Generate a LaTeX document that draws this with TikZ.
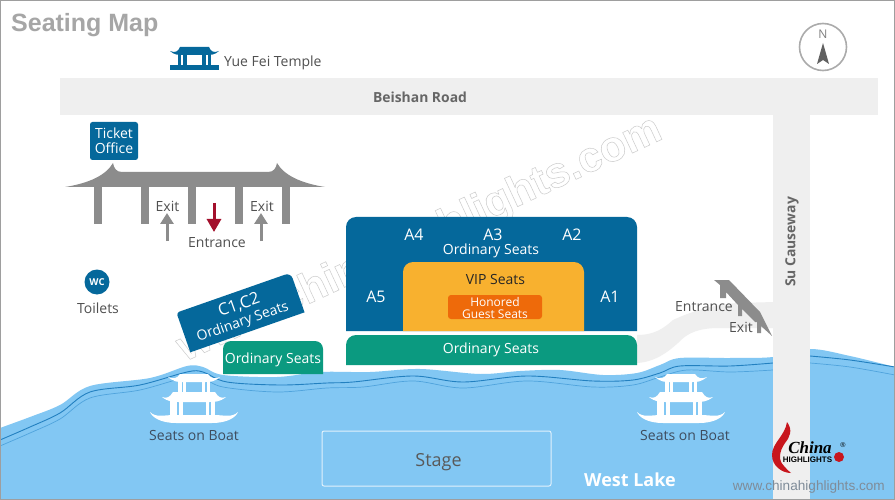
\documentclass[tikz,border=0pt]{standalone}
\usepackage{fontspec}
\setmainfont{Open Sans}
\newfontfamily\arialfont{Liberation Sans}
\newfontfamily\serifitfont{Liberation Serif}
\newfontfamily\markfont[FakeBold=1.2]{Liberation Sans Bold}
\usetikzlibrary{arrows.meta}
\definecolor{deepblue}{HTML}{05689B}
\definecolor{seatgreen}{HTML}{0B9A80}
\definecolor{vipyellow}{HTML}{F8B12F}
\definecolor{honorange}{HTML}{EE6A0A}
\definecolor{waterblue}{HTML}{82C7F3}
\definecolor{roadgrey}{HTML}{EFEFEF}
\definecolor{gategrey}{HTML}{8C8C8C}
\definecolor{labelgrey}{HTML}{505050}
\definecolor{boatlabel}{HTML}{3E4C5E}
\definecolor{sitegrey}{HTML}{7F8C99}
\definecolor{rippledark}{HTML}{2280C0}
\definecolor{ripplelight}{HTML}{4FA3DC}
\definecolor{logored}{HTML}{C8161D}
\definecolor{entrred}{HTML}{A3102C}
\newcommand{\fsz}[1]{\fontsize{#1}{#1}\selectfont}
\tikzset{
  lbl/.style={inner sep=0pt,text=labelgrey,font=\fsz{14},align=center},
  wlbl/.style={inner sep=0pt,text=white,font=\fsz{14},align=center},
  boatlbl/.style={inner sep=0pt,text=boatlabel,font=\fsz{14}},
  ripple1/.style={draw=rippledark,line width=0.9pt},
  ripple2/.style={draw=ripplelight,line width=0.7pt},
  greyarrow/.style={draw=gategrey,line width=3pt,-{Triangle[length=11pt,width=13pt]}},
}
\newcommand{\boatshape}[1]{%
\begin{scope}[shift={(#1,400)},fill=white]
  \fill (-26,-23) .. controls (-21,-21) and (-17,-21) .. (-14,-26) -- (14,-26) .. controls (17,-21) and (21,-21) .. (26,-23) .. controls (20,-18) and (16,-18) .. (12,-18) -- (-12,-18) .. controls (-16,-18) and (-20,-18) .. (-26,-23) -- cycle;
  \fill (-16,-18) rectangle (-12.5,-6);
  \fill (-11,-18) rectangle (-8,-6);
  \fill (8,-18) rectangle (11,-6);
  \fill (12.5,-18) rectangle (16,-6);
  \fill (-32,-3) .. controls (-27,-1) and (-24,-3) .. (-21,-8) -- (21,-8) .. controls (24,-3) and (27,-1) .. (32,-3) .. controls (26,2) and (20,2) .. (16,2) -- (-16,2) .. controls (-20,2) and (-26,2) .. (-32,-3) -- cycle;
  \fill (-24,0) rectangle (-17,15);
  \fill (-15,0) rectangle (-11.5,15);
  \fill (11.5,0) rectangle (15,15);
  \fill (17,0) rectangle (21,15);
  \fill (-44,12) .. controls (-38,18) and (-30,15) .. (-20,15) -- (20,15) .. controls (30,15) and (38,18) .. (44,12) .. controls (42,17) and (34,23) .. (18,23) -- (-18,23) .. controls (-34,23) and (-42,17) .. (-44,12) -- cycle;
\end{scope}}
\begin{document}
\begin{tikzpicture}[x=1pt,y=-1pt]
\useasboundingbox (0,0) rectangle (895,500);
\fill[white] (0,0) rectangle (895,500);
% water
\fill[waterblue] plot[smooth,tension=0.55] coordinates {(0,428) (30,417) (60,405) (90,386) (150,378) (187,366) (203,367) (223,375) (277,377) (320,372) (370,372) (420,369) (480,374) (520,371) (560,370) (603,375) (637,373) (660,365) (680,358) (730,358) (773,357) (810,349) (850,356) (895,367)} -- (895,500) -- (0,500) -- cycle;
% ripples
\draw[ripple1] plot[smooth,tension=0.55] coordinates {(0,440) (30,427) (60,413) (90,392) (140,385) (187,372) (203,372) (227,382) (280,385) (327,383) (353,382) (413,376) (463,382) (527,376) (593,381) (633,380) (660,373) (680,366) (730,366) (773,363)};
\draw[ripple2] plot[smooth,tension=0.55] coordinates {(0,446) (30,433) (60,419) (90,398) (140,390) (187,377) (203,378) (223,387) (277,392) (327,388) (363,387) (413,381) (463,388) (527,381) (593,387) (633,385) (660,377) (687,370) (730,372) (773,370)};
\draw[ripple1] plot[smooth,tension=0.55] coordinates {(810,356) (850,360) (895,367)};
\draw[ripple2] plot[smooth,tension=0.55] coordinates {(810,363) (850,367) (895,375)};
% roads
\fill[roadgrey] (60,78) rectangle (878,115);
\fill[roadgrey] (773,115) rectangle (810,500);
\fill[roadgrey] (775,302) -- (737,303) .. controls (712,305) and (690,312) .. (673,320) .. controls (664,328) and (655,335) .. (637,335) -- (637,363) .. controls (655,362) and (668,352) .. (678,343) .. controls (688,332) and (700,328) .. (720,328) -- (775,328) -- cycle;
% watermark
\node[inner sep=0pt,rotate=25,text=black!20,font=\markfont\fsz{43}] (mark) at (420,240) {\special{pdf:code 1 1 1 rg}www.chinahighlights.com};
% frame
\draw[black!38,line width=1.5pt] (0,0) rectangle (895,500);
% title
\node[anchor=west,inner sep=0pt,text=black!35,font=\arialfont\bfseries\fsz{25}] (title) at (11,25.5) {Seating Map};
% compass
\node[circle,draw=black!33,line width=1.6pt,minimum size=47pt,inner sep=0pt] (compass) at (823,47) {};
\node[inner sep=0pt,text=black!50,font=\fsz{12}] (north) at (823,34) {N};
\fill[black!62] (823,43) -- (829,64) -- (823,60) -- (817,64) -- cycle;
% temple
\begin{scope}[fill=deepblue]
  \fill (170,65) rectangle (219,70);
  \fill (170,51) .. controls (175,53) and (178,52) .. (180,47) -- (209,47) .. controls (211,52) and (214,53) .. (219,51) .. controls (215,55) and (210,55) .. (207,55) -- (182,55) .. controls (179,55) and (174,55) .. (170,51) -- cycle;
  \fill (178,54) rectangle (180.5,65);
  \fill (183,54) rectangle (187,65);
  \fill (202,54) rectangle (206,65);
  \fill (208,54) rectangle (210.5,65);
\end{scope}
\node[lbl,anchor=west] (temple) at (224,63) {Yue Fei Temple};
\node[inner sep=0pt,text=black!60,font=\bfseries\fsz{13.9}] (beishan) at (420,97) {Beishan Road};
\node[inner sep=0pt,rotate=90,text=black!60,font=\bfseries\fsz{13.9}] (su) at (792,242) {Su Causeway};
% ticket office
\node[fill=deepblue,rounded corners=2.5pt,minimum width=48pt,minimum height=38pt,inner sep=0pt,text=white,align=center,font=\fsz{14}] (ticket) at (114,141) {Ticket\\[1pt]Office};
% gate
\fill[gategrey] (65,187) .. controls (90,183) and (106,175) .. (113,163) .. controls (114,168) and (116,172) .. (122,172) -- (268,172) .. controls (274,172) and (276,168) .. (277,163) .. controls (284,175) and (300,183) .. (325,187) -- cycle;
\fill[gategrey] (93.5,186) rectangle (102,224);
\fill[gategrey] (140.5,186) rectangle (149,224);
\fill[gategrey] (187.5,186) rectangle (196,224);
\fill[gategrey] (234.5,186) rectangle (243,224);
\fill[gategrey] (281.5,186) rectangle (290,224);
\node[lbl] (exitL) at (167.5,206) {Exit};
\node[lbl] (exitR) at (262,206) {Exit};
\node[lbl] (entr) at (217,243) {Entrance};
\coordinate (eLa) at (167,241); \coordinate (eLb) at (167,213);
\coordinate (eRa) at (261,241); \coordinate (eRb) at (261,213);
\coordinate (enA) at (214,203); \coordinate (enB) at (214,232);
\draw[greyarrow] (eLa) -- (eLb);
\draw[greyarrow] (eRa) -- (eRb);
\draw[draw=entrred,line width=3pt,-{Triangle[length=13pt,width=14pt]}] (enA) -- (enB);
% toilets
\node[circle,fill=deepblue,minimum size=25pt,inner sep=0pt,text=white,font=\bfseries\fsz{9.5}] (wc) at (97,282) {WC};
\node[lbl] (toilets) at (98,308) {Toilets};
% C1,C2
\begin{scope}[shift={(240.5,312.5)},rotate=19.3]
  \fill[deepblue] (-60.5,21) [rounded corners=3pt] -- (-60.5,-21) [rounded corners=6pt] -- (60.5,-21) [sharp corners] -- (60.5,21) -- cycle;
  \node[wlbl,font=\fsz{16.5},rotate=19.3] (c1) at (1,-7.5) {C1,C2};
  \node[wlbl,rotate=19.3] (c1b) at (-1,10) {Ordinary Seats};
\end{scope}
% small green
\fill[seatgreen,rounded corners=8pt] (223,374) -- (223,341) -- (323,341) -- (323,374);
\node[wlbl] (ordS) at (273,359.5) {Ordinary Seats};
% A block
\fill[deepblue,rounded corners=10pt] (346,331) -- (346,217) -- (637,217) -- (637,331);
\fill[vipyellow,rounded corners=10pt] (403,331) -- (403,262) -- (584,262) -- (584,331);
\node[fill=honorange,rounded corners=3pt,minimum width=94pt,minimum height=24pt,inner sep=0pt] (hon) at (495,307) {};
\fill[seatgreen,rounded corners=10pt] (346,365) -- (346,335) -- (637,335) -- (637,365);
\foreach \n/\x/\y/\t in {a4/414/235/A4,a3/493/235/A3,a2/572/235/A2,a5/376/297/A5,a1/610/297/A1}
  \node[wlbl,font=\fsz{16}] (\n) at (\x,\y) {\t};
\node[wlbl] (ordA) at (491,250.5) {Ordinary Seats};
\node[inner sep=0pt,text=black!85,font=\fsz{14}] (vip) at (495.5,279) {VIP Seats};
\node[wlbl,font=\fsz{12}] (honT) at (495,301.5) {Honored};
\node[wlbl,font=\fsz{12}] (honB) at (495,314) {Guest Seats};
\node[wlbl] (ordB) at (491,349.5) {Ordinary Seats};
% boats
\boatshape{194}
\boatshape{681}
\node[boatlbl] (boatL) at (194,435) {Seats on Boat};
\node[boatlbl] (boatR) at (685,435) {Seats on Boat};
% stage
\node[draw=white!75!waterblue,line width=1pt,rounded corners=2pt,minimum width=229pt,minimum height=55pt,inner sep=0pt] (stage) at (436.5,458.5) {};
\node[inner sep=0pt,text=black!65,font=\fsz{18}] (stageT) at (438.5,462.5) {Stage};
\node[inner sep=0pt,text=white,font=\bfseries\fsz{18}] (lake) at (630,480) {West Lake};
% right entrance gate
\fill[gategrey] (714,280) -- (729,280) -- (760,312) -- (772,336) -- (761,326) -- (761,333) -- (757,333) -- (757,322) -- (755,322) -- (742,309) -- (742,316) -- (738,316) -- (738,305) -- (726,292) -- (726,298) -- (720,298) -- (720,285) -- cycle;
\node[lbl] (entR) at (704,307) {Entrance};
\node[lbl] (exR) at (741,327) {Exit};
% logo
\fill[logored] (787,422) .. controls (793,430) and (790,437) .. (785,443) .. controls (779,452) and (778,460) .. (784,466) .. controls (786,469) and (789,471) .. (791,473) .. controls (782,473) and (772,466) .. (772,455) .. controls (772,443) and (785,436) .. (787,422) -- cycle;
\node[inner sep=0pt,text=black,font=\serifitfont\bfseries\itshape\fsz{17}] (china) at (810,448) {China};
\node[inner sep=0pt,text=black,font=\arialfont\bfseries\fsz{8}] (high) at (807.5,460) {HIGHLIGHTS};
\fill[logored] (839,457) circle[radius=5];
\node[inner sep=0pt,text=black,font=\arialfont\fsz{7}] (reg) at (843,445) {®};
\node[anchor=east,inner sep=0pt,text=sitegrey,font=\arialfont\fsz{13.6}] (site) at (885,487) {www.chinahighlights.com};
\end{tikzpicture}
\end{document}
